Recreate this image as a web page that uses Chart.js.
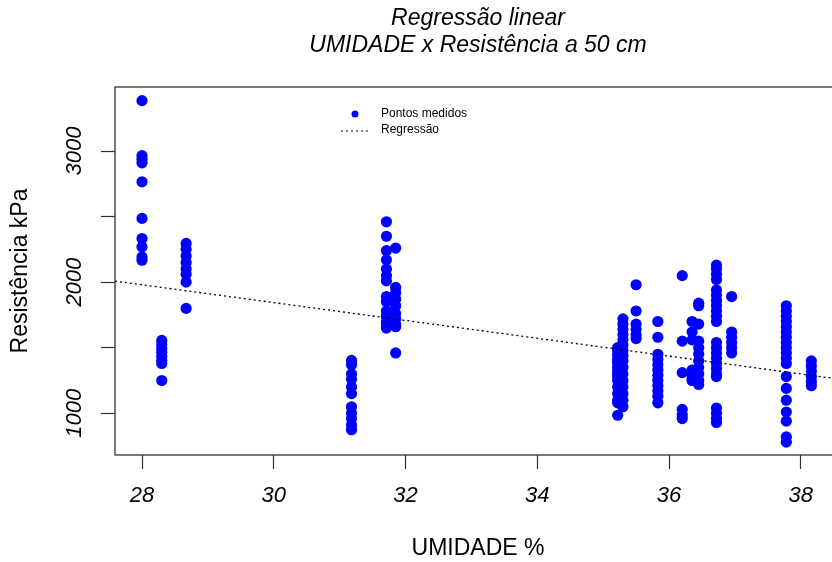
<!DOCTYPE html>
<html>
<head>
<meta charset="utf-8">
<script src="https://cdn.jsdelivr.net/npm/chart.js@4"></script>
<style>
  html, body { margin: 0; padding: 0; background: #fff; overflow: hidden; }
  #wrap { width: 860px; height: 562px; }
</style>
</head>
<body>
<div id="wrap"><canvas id="chart" width="860" height="562"></canvas></div>
<script>
  // Moisture levels (%) and the resistance readings (kPa) measured at each one
  const umidade = [28.0, 28.3, 28.67, 31.18, 31.71, 31.85, 35.22, 35.3, 35.5, 35.83, 36.2, 36.35, 36.45, 36.72, 36.95, 37.78, 38.16];
  const resistencia = [
    [3384, 2965, 2938, 2910, 2765, 2486, 2333, 2269, 2192, 2167],
    [1556, 1525, 1495, 1465, 1435, 1405, 1380, 1250],
    [2295, 2250, 2200, 2150, 2100, 2060, 2000, 1800],
    [1403, 1370, 1300, 1260, 1200, 1150, 1050, 1000, 960, 910, 875],
    [2460, 2350, 2240, 2170, 2100, 2050, 2010, 1890, 1850, 1780, 1740, 1700, 1680, 1650],
    [2260, 1960, 1920, 1870, 1820, 1760, 1720, 1680, 1660, 1460],
    [1500, 1480, 1450, 1420, 1400, 1380, 1350, 1320, 1300, 1280, 1250, 1200, 1150, 1100, 1080, 985],
    [1720, 1680, 1640, 1600, 1560, 1520, 1480, 1440, 1400, 1350, 1300, 1250, 1200, 1150, 1100, 1050],
    [1980, 1780, 1680, 1640, 1600, 1570],
    [1700, 1580, 1450, 1410, 1370, 1330, 1290, 1250, 1210, 1170, 1130, 1080],
    [2050, 1550, 1310, 1030, 990, 960],
    [1700, 1620, 1560, 1330, 1300, 1270, 1250],
    [1840, 1820, 1680, 1550, 1500, 1450, 1400, 1350, 1300, 1250, 1220],
    [2130, 2100, 2060, 2020, 1940, 1900, 1860, 1820, 1780, 1740, 1700, 1540, 1500, 1460, 1420, 1380, 1340, 1300, 1280, 1040, 1000, 960, 930],
    [1890, 1620, 1580, 1540, 1500, 1460],
    [1820, 1780, 1740, 1700, 1660, 1620, 1580, 1540, 1500, 1460, 1420, 1380, 1280, 1190, 1100, 1010, 940, 820, 780],
    [1400, 1360, 1320, 1280, 1240, 1210]
  ];

  // Fitted line: resistencia = intercept + slope * umidade
  const intercept = 3884;
  const slope = -68;

  const xTicks = [28, 30, 32, 34, 36, 38];
  const yTicks = [1000, 1500, 2000, 2500, 3000];
  const yLabels = [1000, 2000, 3000];

  const xMin = 27.59, xMax = 38.61;
  const yMin = 682, yMax = 3488;

  const titulo = ['Regressão linear', 'UMIDADE x Resistência a 50 cm'];
  const xTitle = 'UMIDADE %';
  const yTitle = 'Resistência kPa';

  const FONT = '"Liberation Sans", Arial, Helvetica, sans-serif';

  const pontos = [];
  umidade.forEach((u, i) => {
    resistencia[i].forEach(r => pontos.push({ x: u, y: r }));
  });

  const regressao = [xMin, xMax].map(x => ({ x: x, y: intercept + slope * x }));

  // Titles, rotated y labels, legend and the frame (R-style base plot)
  const decorations = {
    id: 'decorations',
    afterDraw(chart) {
      const ctx = chart.ctx;
      const area = chart.chartArea;
      const ys = chart.scales.y;
      const cx = (area.left + area.right) / 2;
      const cy = (area.top + area.bottom) / 2;
      ctx.save();

      // frame
      ctx.strokeStyle = '#333';
      ctx.lineWidth = 1.3;
      ctx.strokeRect(area.left, area.top, area.right - area.left, area.bottom - area.top);

      ctx.fillStyle = '#000';
      ctx.textAlign = 'center';
      ctx.textBaseline = 'middle';

      // main title
      ctx.font = 'italic 23px ' + FONT;
      ctx.fillText(titulo[0], cx, 19);
      ctx.fillText(titulo[1], cx, 46);

      // x axis title
      ctx.font = '23px ' + FONT;
      ctx.fillText(xTitle, cx, 549);

      // y axis title
      ctx.save();
      ctx.translate(21, cy);
      ctx.rotate(-Math.PI / 2);
      ctx.fillText(yTitle, 0, 0);
      ctx.restore();

      // y tick labels (rotated, like las=0 in R)
      ctx.font = 'italic 22px ' + FONT;
      yLabels.forEach(v => {
        ctx.save();
        ctx.translate(75, ys.getPixelForValue(v));
        ctx.rotate(-Math.PI / 2);
        ctx.fillText(String(v), 0, 0);
        ctx.restore();
      });

      // legend (no box)
      const ds = chart.data.datasets;
      ctx.font = '12px ' + FONT;
      ctx.textAlign = 'left';
      ctx.fillStyle = ds[0].backgroundColor;
      ctx.beginPath();
      ctx.arc(355, 114, 3.5, 0, Math.PI * 2);
      ctx.fill();
      ctx.fillStyle = '#000';
      ctx.fillText(ds[0].label, 381, 114);

      ctx.strokeStyle = ds[1].borderColor;
      ctx.lineWidth = 1.2;
      ctx.setLineDash([2, 3]);
      ctx.beginPath();
      ctx.moveTo(341, 131);
      ctx.lineTo(368, 131);
      ctx.stroke();
      ctx.setLineDash([]);
      ctx.fillText(ds[1].label, 381, 130);

      ctx.restore();
    }
  };

  new Chart(document.getElementById('chart'), {
    type: 'scatter',
    data: {
      datasets: [
        {
          label: 'Pontos medidos',
          data: pontos,
          backgroundColor: '#0000ff',
          borderColor: '#0000ff',
          borderWidth: 0,
          pointRadius: 5.6,
          pointHoverRadius: 5.6,
          order: 1
        },
        {
          type: 'line',
          label: 'Regressão',
          data: regressao,
          borderColor: '#000',
          borderWidth: 1.3,
          borderDash: [2, 3],
          pointRadius: 0,
          fill: false,
          order: 0
        }
      ]
    },
    options: {
      responsive: false,
      animation: false,
      events: [],
      layout: { padding: { top: 87, right: 19, left: 0, bottom: 0 } },
      plugins: {
        legend: { display: false },
        title: { display: false },
        tooltip: { enabled: false }
      },
      scales: {
        x: {
          type: 'linear',
          min: xMin,
          max: xMax,
          afterFit: s => { s.height = 107; },
          afterBuildTicks: s => { s.ticks = xTicks.map(v => ({ value: v })); },
          grid: { drawOnChartArea: false, drawTicks: true, tickLength: 14, tickColor: '#333', tickWidth: 1.2 },
          border: { display: false },
          ticks: {
            color: '#000',
            padding: 14,
            maxRotation: 0,
            font: { family: FONT, size: 22, style: 'italic' }
          }
        },
        y: {
          type: 'linear',
          min: yMin,
          max: yMax,
          afterFit: s => { s.width = 115; },
          afterBuildTicks: s => { s.ticks = yTicks.map(v => ({ value: v })); },
          grid: { drawOnChartArea: false, drawTicks: true, tickLength: 14, tickColor: '#333', tickWidth: 1.2 },
          border: { display: false },
          ticks: { callback: () => '' }
        }
      }
    },
    plugins: [decorations]
  });
</script>
</body>
</html>
